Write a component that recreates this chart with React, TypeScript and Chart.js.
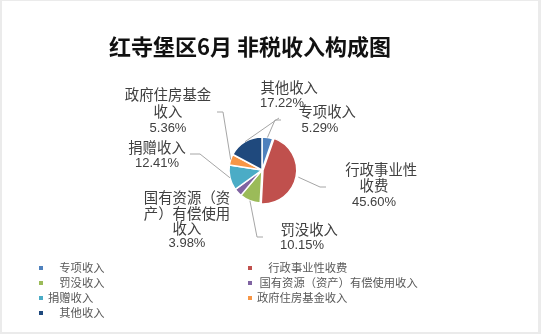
import React, { useEffect, useRef } from "react";
import { Chart, registerables } from "chart.js";

Chart.register(...registerables);

// ---- data ----
const titleText = "红寺堡区6月 非税收入构成图";
const categories = [
  "　专项收入",
  "　行政事业性收费",
  "　罚没收入",
  " 国有资源（资产）有偿使用收入",
  "捐赠收入",
  "政府住房基金收入",
  "　其他收入",
];
const values = [5.29, 45.6, 10.15, 3.98, 12.41, 5.36, 17.22];
const pieLabelLines = [
  ["　专项收入"],
  ["　行政事业性", "收费"],
  ["　罚没收入"],
  ["国有资源（资", "产）有偿使用", "收入"],
  ["捐赠收入"],
  ["政府住房基金", "收入"],
  ["　其他收入"],
];
const colors = ["#4F81BD", "#C0504D", "#9BBB59", "#8064A2", "#4BACC6", "#F79646", "#1F497D"];

// ---- layout (relative to pie centre) ----
const LABEL_LAYOUT = [
  { dx: 58, dy: -58, lh: 16, elbow: [13, -50], tail: 6 },
  { dx: 112, dy: 0, lh: 16, elbow: [58, 17], tail: 6 },
  { dx: 40, dy: 60, lh: 15, elbow: [-5, 67], tail: 6 },
  { dx: -75, dy: 28, lh: 15.2, elbow: null, tail: 0 },
  { dx: -105, dy: -22, lh: 15, elbow: [-62, -16], tail: -10 },
  { dx: -94, dy: -75, lh: 16.5, elbow: [-39, -58], tail: -6 },
  { dx: 20, dy: -82, lh: 15, elbow: [17, -52], tail: 0 },
];

const CJK = "'Noto Sans CJK SC'";

const decor = {
  id: "decor",
  beforeDraw(chart: any) {
    const ctx = chart.ctx;
    ctx.save();
    ctx.fillStyle = "#ebebeb";
    ctx.fillRect(0, 0, chart.width, chart.height);
    ctx.fillStyle = "#ffffff";
    ctx.fillRect(2, 1, chart.width - 5, chart.height - 3);
    ctx.restore();
  },
  afterDraw(chart: any) {
    const ctx = chart.ctx;
    const meta = chart.getDatasetMeta(0);
    const ds = chart.data.datasets[0];
    ctx.save();

    // title
    ctx.fillStyle = "#111111";
    ctx.font = `bold 22px ${CJK}`;
    ctx.textAlign = "center";
    ctx.textBaseline = "middle";
    ctx.fillText(titleText, 250, 47);

    // leader lines + labels
    meta.data.forEach((arc: any, i: number) => {
      const p = arc.getProps(["x", "y", "startAngle", "endAngle", "outerRadius"], true);
      const mid = (p.startAngle + p.endAngle) / 2;
      const off = (arc.options && arc.options.offset) || 0;
      const L = LABEL_LAYOUT[i];
      const cx = p.x;
      const cy = p.y;
      if (L.elbow) {
        const r0 = p.outerRadius + off;
        const sx = cx + Math.cos(mid) * r0;
        const sy = cy + Math.sin(mid) * r0;
        const ex = cx + L.elbow[0];
        const ey = cy + L.elbow[1];
        ctx.strokeStyle = "#A6A6A6";
        ctx.lineWidth = 1;
        ctx.beginPath();
        ctx.moveTo(sx, sy);
        ctx.lineTo(ex, ey);
        if (L.tail) ctx.lineTo(ex + L.tail, ey);
        ctx.stroke();
      }
      const lines = pieLabelLines[i];
      const pct = (ds.data[i] as number).toFixed(2) + "%";
      ctx.fillStyle = "#404040";
      ctx.textAlign = "center";
      ctx.textBaseline = "middle";
      const x = cx + L.dx;
      let y = cy + L.dy;
      ctx.font = `14.4px ${CJK}`;
      lines.forEach((t: string) => {
        ctx.fillText(t, x, y);
        y += L.lh;
      });
      ctx.font = `13px 'Liberation Sans'`;
      ctx.fillText(pct, x, y);
    });

    // legend
    const labels = chart.data.labels as string[];
    const colX = [39, 248];
    const rowY0 = 268;
    const rowH = 15;
    ctx.font = `11.3px ${CJK}`;
    ctx.textAlign = "left";
    ctx.textBaseline = "middle";
    labels.forEach((lab, i) => {
      const col = i % 2;
      const row = Math.floor(i / 2);
      const mx = colX[col];
      const my = rowY0 + row * rowH;
      ctx.fillStyle = (ds.backgroundColor as string[])[i];
      ctx.fillRect(mx, my - 2, 4, 4);
      ctx.fillStyle = "#595959";
      ctx.fillText(lab, mx + 9, my);
    });

    ctx.restore();
  },
};

export default function App() {
  const ref = useRef<HTMLCanvasElement | null>(null);
  useEffect(() => {
    document.body.style.margin = "0";
    const canvas = ref.current!;
    const chart = new Chart(canvas, {
      type: "pie",
      data: {
        labels: categories,
        datasets: [
          {
            data: values,
            backgroundColor: colors,
            borderColor: "#ffffff",
            borderWidth: 1.5,
            offset: [0, 4, 0, 0, 0, 0, 0],
            radius: 33,
          } as any,
        ],
      },
      options: {
        responsive: false,
        animation: false,
        devicePixelRatio: 1,
        layout: { padding: { left: 229, right: 246, top: 137, bottom: 131 } },
        plugins: {
          legend: { display: false },
          title: { display: false },
          tooltip: { enabled: false },
        },
      },
      plugins: [decor],
    });
    return () => chart.destroy();
  }, []);
  return (
    <div style={{ width: 541, height: 334 }}>
      <canvas ref={ref} width={541} height={334} style={{ display: "block" }} />
    </div>
  );
}
